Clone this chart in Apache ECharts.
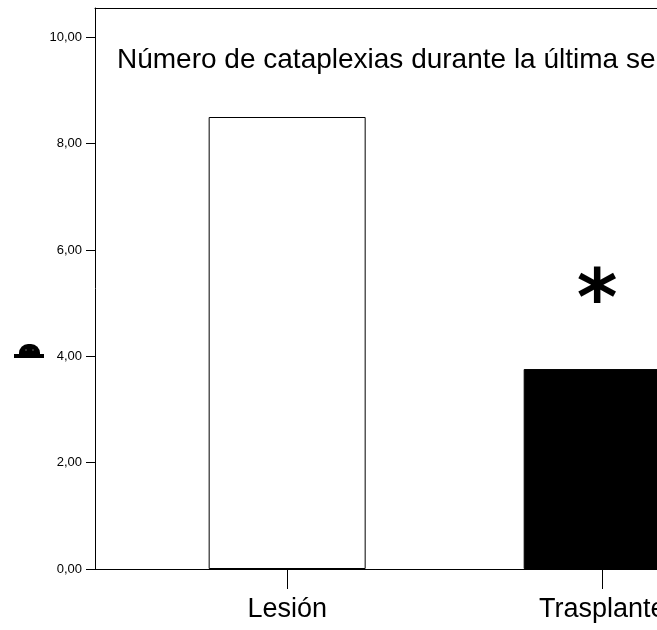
<!DOCTYPE html>
<html>
<head>
<meta charset="utf-8">
<style>
  html, body { margin: 0; padding: 0; background: #ffffff; }
  #chart { width: 657px; height: 630px; }
</style>
<script src="https://cdn.jsdelivr.net/npm/echarts@6/dist/echarts.min.js"></script>
</head>
<body>
<div id="chart"></div>
<script>
// Groups along the horizontal axis and their positions on it
const categories = ['Lesión', 'Trasplante'];
const positions = [1, 2];
// Mean number of cataplexies in the last week per group
const values = [8.5, 3.76];
// Significance marks drawn above each bar
const marks = ['', '*'];
const barFills = ['#ffffff', '#000000'];
// Vertical axis tick values
const yTicks = [0, 2, 4, 6, 8, 10];

const titleText = 'Número de cataplexias durante la última semana';
const FONT = 'Liberation Sans, Arial, sans-serif';

const chart = echarts.init(document.getElementById('chart'), null, { renderer: 'canvas' });

const barData = positions.map((p, i) => ({
  value: [p, values[i]],
  itemStyle: { color: barFills[i], borderColor: '#000000', borderWidth: 1 },
  label: {
    show: marks[i] !== '',
    formatter: marks[i]
  }
}));

const X_MIN = 0.39;
const X_MAX = 2.174;

chart.setOption({
  animation: false,
  backgroundColor: '#ffffff',
  grid: { left: 95, top: 8, bottom: 61, right: 0, outerBoundsMode: 'none' },
  xAxis: [
    {
      type: 'value',
      min: X_MIN,
      max: X_MAX,
      splitLine: { show: false },
      axisLine: { show: true, lineStyle: { color: '#000000', width: 1 } },
      axisTick: { show: true, customValues: positions, length: 20, inside: false, lineStyle: { color: '#000000', width: 1 } },
      axisLabel: {
        customValues: positions,
        formatter: v => categories[positions.indexOf(Math.round(v))] || '',
        color: '#000000',
        fontFamily: FONT,
        fontSize: 27,
        margin: 27,
        hideOverlap: false
      }
    },
    {
      // frame line along the top of the plot
      type: 'value',
      position: 'top',
      min: X_MIN,
      max: X_MAX,
      splitLine: { show: false },
      axisLine: { show: true, lineStyle: { color: '#000000', width: 1 } },
      axisTick: { show: false },
      axisLabel: { show: false }
    }
  ],
  yAxis: {
    type: 'value',
    min: 0,
    max: 10.55,
    splitLine: { show: false },
    axisLine: { show: true, lineStyle: { color: '#000000', width: 1 } },
    axisTick: { show: true, customValues: yTicks, length: 9, inside: false, lineStyle: { color: '#000000', width: 1 } },
    axisLabel: {
      customValues: yTicks,
      formatter: v => v.toFixed(2).replace('.', ','),
      color: '#000000',
      fontFamily: FONT,
      fontSize: 13,
      margin: 13
    }
  },
  series: [{
    type: 'bar',
    barWidth: 157,
    data: barData,
    label: {
      position: 'top',
      distance: 25,
      offset: [-5, 0],
      color: '#000000',
      fontFamily: 'DejaVu Sans, sans-serif',
      fontSize: 78,
      fontWeight: 'bold'
    }
  }],
  graphic: [
    {
      type: 'text',
      left: 117,
      top: 46,
      style: { text: titleText, fill: '#000000', font: '28px ' + FONT }
    },
    {
      type: 'group',
      left: 14,
      top: 344,
      children: [
        { type: 'rect', shape: { x: 0, y: 11, width: 30, height: 4 }, style: { fill: '#000000' } },
        { type: 'rect', shape: { x: 5, y: 1, width: 21, height: 12, r: [9, 9, 1, 1] }, style: { fill: '#000000' } },
        { type: 'circle', shape: { cx: 12, cy: 7, r: 1 }, style: { fill: '#444444' } },
        { type: 'circle', shape: { cx: 19, cy: 7, r: 1 }, style: { fill: '#444444' } }
      ]
    }
  ]
});
</script>
</body>
</html>
